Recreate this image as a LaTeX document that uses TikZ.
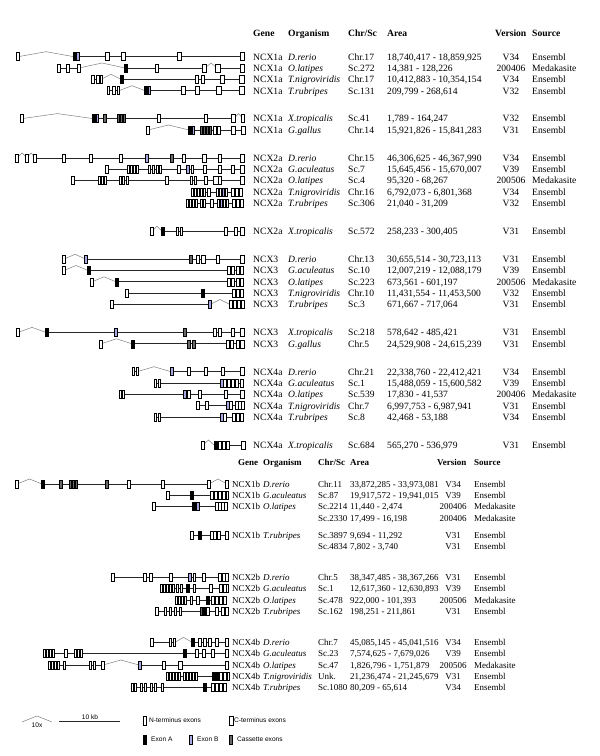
\documentclass[tikz,border=0pt]{standalone}
\usepackage{fontspec}
\setmainfont{Liberation Serif}
\newfontfamily\legfont{Liberation Sans}
\definecolor{exonB}{RGB}{168,168,226}
\definecolor{cassGray}{RGB}{105,105,105}
\newcommand{\tabfont}{\fontsize{9.6}{11}\selectfont}

% one gene model: y, introns (l = straight, k = 10x hat), exons (style/x/width)
\newcommand{\model}[3]{%
  \foreach \ty/\xa/\xb in {#2}{%
    \if\ty k\draw[hat] (\xa,#1) -- ({(\xa+\xb)/2},{#1-5}) -- (\xb,#1);%
    \else\draw[intron] (\xa,#1) -- (\xb,#1);\fi}%
  \foreach \st/\xc/\ew in {#3}{%
    \path[\st] ({\xc-\ew/2},{#1-4}) rectangle ++(\ew,8);}%
}
% one line of the table
\newcommand{\tabrow}[8]{%
  \node[txt] (#1-g) at (\cG,{#2+3.3}) {#3};
  \node[txt, font=\tabfont\itshape] (#1-o) at (\cO,{#2+3.3}) {#4};
  \node[txt] (#1-c) at (\cC,{#2+3.3}) {#5};
  \node[txt] (#1-a) at (\cA,{#2+3.3}) {#6};
  \node[txt, anchor=base] (#1-v) at (\cV,{#2+3.3}) {#7};
  \node[txt] (#1-s) at (\cS,{#2+3.3}) {#8};}
\newcommand{\subrow}[6]{%
  \node[txt] (#1-c) at (\cC,{#2+3.3}) {#3};
  \node[txt] (#1-a) at (\cA,{#2+3.3}) {#4};
  \node[txt, anchor=base] (#1-v) at (\cV,{#2+3.3}) {#5};
  \node[txt] (#1-s) at (\cS,{#2+3.3}) {#6};}
\newcommand{\headrow}[2]{%
  \node[head] (#1-g) at (\hG,{#2+3.3}) {Gene};
  \node[head] (#1-o) at (\cO,{#2+3.3}) {Organism};
  \node[head] (#1-c) at (\cC,{#2+3.3}) {Chr/Sc};
  \node[head] (#1-a) at (\cA,{#2+3.3}) {Area};
  \node[head] (#1-v) at ({\cV-16},{#2+3.3}) {Version};
  \node[head] (#1-s) at (\cS,{#2+3.3}) {Source};}

\begin{document}
\begin{tikzpicture}[x=1pt, y=-1pt,
    intron/.style={draw=black!85, line width=0.7pt},
    hat/.style={draw=gray, line width=0.5pt},
    nx/.style={draw, fill=white, line width=0.5pt},
    ax/.style={draw, fill=black, line width=0.5pt},
    bx/.style={draw, fill=exonB, line width=0.5pt},
    cx/.style={draw, fill=cassGray, line width=0.5pt},
    tx/.style={draw, fill=white, line width=0.5pt, path picture={
        \fill (path picture bounding box.north west) -- ([xshift=2pt]path picture bounding box.north west)
          -- (path picture bounding box.south east) -- ([xshift=-2pt]path picture bounding box.south east) -- cycle;}},
    txt/.style={anchor=base west, inner sep=0pt, font=\tabfont},
    head/.style={txt, font=\tabfont\bfseries},
    leg/.style={inner sep=0pt, font=\legfont\fontsize{6.6}{8}\selectfont}]

\useasboundingbox (0,0) rectangle (600,756);

% upper table
\def\cG{253}\def\hG{253}\def\cO{288}\def\cC{348}\def\cA{387}\def\cV{511}\def\cS{532}
\headrow{h1}{33}

\model{56.7}{k/18/74, l/76/244}{nx/18/3, ax/75/3, bx/78/3, tx/107/4, tx/123/4, tx/179/4, tx/242/4}
\model{68}{l/59/79, k/79/125, l/126/204, k/205/217, l/218/243}{nx/59/3, nx/68/3, nx/79/3, ax/126/3, tx/157/3, tx/204/4, tx/218/5, tx/242/4}
\model{79.3}{l/92/101, k/101/121, l/122/243}{nx/93/3, nx/98/3, nx/101/2, ax/122/3, tx/197/3, tx/203/3, tx/222/4, tx/242/5}
\model{90.7}{l/107/119, k/119/145, l/146/243}{nx/108/2, nx/114/3, nx/118/2, ax/146/3, bx/149/2, tx/183/4, tx/197/4, tx/219/5, tx/242/5}
\model{118.6}{k/22/93, l/95/233, k/234/243}{nx/22/3, ax/94/3, bx/97/2, cx/105/3, cx/118/2, cx/121/2, cx/124/2, tx/159/3, tx/206/3, tx/233/4, tx/243/3}
\model{130}{k/148/189, l/190/243}{nx/148/3, ax/190/3, bx/193/2, cx/201/2, cx/204/2, cx/207/2, cx/210/2, tx/215/3, tx/219/3, tx/233/4, tx/243/4}

\tabrow{n1a-dr}{56.7}{NCX1a}{D.rerio}{Chr.17}{18,740,417 - 18,859,925}{V34}{Ensembl}
\tabrow{n1a-ol}{68}{NCX1a}{O.latipes}{Sc.272}{14,381 - 128,226}{200406}{Medakasite}
\tabrow{n1a-tn}{79.3}{NCX1a}{T.nigroviridis}{Chr.17}{10,412,883 - 10,354,154}{V34}{Ensembl}
\tabrow{n1a-tr}{90.7}{NCX1a}{T.rubripes}{Sc.131}{209,799 - 268,614}{V32}{Ensembl}
\tabrow{n1a-xt}{118.6}{NCX1a}{X.tropicalis}{Sc.41}{1,789 - 164,247}{V32}{Ensembl}
\tabrow{n1a-gg}{130}{NCX1a}{G.gallus}{Chr.14}{15,921,826 - 15,841,283}{V31}{Ensembl}

\model{157.9}{k/17/27, k/27/35, l/35/243}{nx/17/3, nx/27/3, nx/35/3, nx/64/3, nx/91/3, nx/121/3, bx/147/3, cx/172/3, tx/184/3, tx/204/4, tx/220/3, tx/242/4}
\model{169.3}{l/107/243}{nx/107/3, nx/128/2, nx/131/2, nx/134/2, nx/137/2, nx/149/2, nx/153/2, nx/157/2, nx/160/2, nx/179/3, bx/188/3, nx/192/2, tx/205/3, tx/220/3, tx/233/3, tx/242/4}
\model{180.6}{l/73/243}{nx/73/3, nx/99/2, nx/102/2, nx/105/2, nx/120/2, nx/123/2, nx/127/2, nx/167/3, nx/191/2, nx/195/2, tx/206/3, tx/216/5, tx/220/3, tx/242/4}
\model{191.9}{l/191/243}{nx/192/2, nx/195/2, nx/198/2, nx/201/2, nx/204/2, nx/209/3, nx/217/2, nx/220/2, bx/223/2, tx/226/2, tx/233/3, tx/237/3, tx/241/3}
\model{203.2}{l/186/243}{nx/187/2, nx/190/2, nx/193/2, nx/196/2, nx/201/2, nx/204/2, nx/212/3, nx/218/2, bx/221/2, tx/224/2, tx/227/2, tx/234/3, tx/238/3, tx/242/3}
\model{231.2}{k/152/162, l/163/243}{nx/152/3, ax/163/3, nx/177/2, nx/181/2, tx/226/3, tx/236/3, tx/242/4}

\tabrow{n2a-dr}{157.9}{NCX2a}{D.rerio}{Chr.15}{46,306,625 - 46,367,990}{V34}{Ensembl}
\tabrow{n2a-ga}{169.3}{NCX2a}{G.aculeatus}{Sc.7}{15,645,456 - 15,670,007}{V39}{Ensembl}
\tabrow{n2a-ol}{180.6}{NCX2a}{O.latipes}{Sc.4}{95,320 - 68,267}{200506}{Medakasite}
\tabrow{n2a-tn}{191.9}{NCX2a}{T.nigroviridis}{Chr.16}{6,792,073 - 6,801,368}{V34}{Ensembl}
\tabrow{n2a-tr}{203.2}{NCX2a}{T.rubripes}{Sc.306}{21,040 - 31,209}{V32}{Ensembl}
\tabrow{n2a-xt}{231.2}{NCX2a}{X.tropicalis}{Sc.572}{258,233 - 300,405}{V31}{Ensembl}

\model{259.2}{k/64/86, l/86/243}{nx/64/3, bx/86/3, cx/191/3, tx/198/3, tx/203/4, tx/218/3, tx/242/4}
\model{270.5}{k/64/88, l/89/243}{nx/64/3, ax/89/3, tx/229/3, tx/233/3, tx/238/3, tx/242/3}
\model{281.8}{k/92/116, l/117/243}{nx/92/3, ax/117/3, tx/229/3, tx/233/3, tx/238/3, tx/242/3}
\model{293.1}{l/127/243}{nx/127/3, ax/203/3, tx/234/3, tx/238/3, tx/242/3}
\model{304.5}{l/112/210, k/210/230, l/230/243}{nx/112/3, bx/210/3, tx/231/3, tx/235/3, tx/239/3, tx/243/3}
\model{332.4}{k/18/46, l/47/243}{nx/18/3, ax/47/3, bx/116/3, cx/185/3, tx/215/3, tx/220/3, tx/233/3, tx/242/4}
\model{343.8}{k/101/132, l/133/243}{nx/101/3, ax/133/3, cx/189/3, cx/194/3, tx/228/3, tx/232/3, tx/238/3, tx/242/4}

\tabrow{n3-dr}{259.2}{NCX3}{D.rerio}{Chr.13}{30,655,514 - 30,723,113}{V31}{Ensembl}
\tabrow{n3-ga}{270.5}{NCX3}{G.aculeatus}{Sc.10}{12,007,219 - 12,088,179}{V39}{Ensembl}
\tabrow{n3-ol}{281.8}{NCX3}{O.latipes}{Sc.223}{673,561 - 601,197}{200506}{Medakasite}
\tabrow{n3-tn}{293.1}{NCX3}{T.nigroviridis}{Chr.10}{11,431,554 - 11,453,500}{V32}{Ensembl}
\tabrow{n3-tr}{304.5}{NCX3}{T.rubripes}{Sc.3}{671,667 - 717,064}{V31}{Ensembl}
\tabrow{n3-xt}{332.4}{NCX3}{X.tropicalis}{Sc.218}{578,642 - 485,421}{V31}{Ensembl}
\tabrow{n3-gg}{343.8}{NCX3}{G.gallus}{Chr.5}{24,529,908 - 24,615,239}{V31}{Ensembl}

\model{371.7}{l/132/137, k/137/171, l/172/243}{nx/133/2, nx/137/2, bx/172/3, tx/189/3, tx/206/3, tx/223/3, tx/242/4}
\model{383}{l/155/243}{nx/155/2, nx/159/2, bx/222/3, tx/225/3, tx/229/3, tx/233/3, tx/237/3, tx/242/3}
\model{394.4}{l/119/243}{nx/120/2, nx/123/2, bx/185/3, tx/189/3, tx/200/3, tx/226/3, tx/242/4}
\model{405.7}{l/198/243}{nx/198/3, nx/207/3, bx/228/3, tx/231/3, tx/237/3, tx/240/3, tx/243/3}
\model{417}{l/155/243}{nx/155/2, nx/159/2, bx/222/3, tx/225/3, tx/234/3, tx/238/3, tx/242/3}
\model{445}{k/203/214, l/215/243}{nx/203/3, ax/216/3, tx/220/3, tx/224/3, tx/228/3, tx/243/4}

\tabrow{n4a-dr}{371.7}{NCX4a}{D.rerio}{Chr.21}{22,338,760 - 22,412,421}{V34}{Ensembl}
\tabrow{n4a-ga}{383}{NCX4a}{G.aculeatus}{Sc.1}{15,488,059 - 15,600,582}{V39}{Ensembl}
\tabrow{n4a-ol}{394.4}{NCX4a}{O.latipes}{Sc.539}{17,830 - 41,537}{200406}{Medakasite}
\tabrow{n4a-tn}{405.7}{NCX4a}{T.nigroviridis}{Chr.7}{6,997,753 - 6,987,941}{V31}{Ensembl}
\tabrow{n4a-tr}{417}{NCX4a}{T.rubripes}{Sc.8}{42,468 - 53,188}{V34}{Ensembl}
\tabrow{n4a-xt}{445}{NCX4a}{X.tropicalis}{Sc.684}{565,270 - 536,979}{V31}{Ensembl}

% lower table, set a little smaller
\renewcommand{\tabfont}{\fontsize{9}{11}\selectfont}
\def\cG{232}\def\hG{238}\def\cO{263}\def\cC{318}\def\cA{350}\def\cV{453}\def\cS{474}
\headrow{h2}{462}

\model{484}{k/17/42, l/43/209, k/209/227}{nx/17/3, ax/43/3, cx/61/3, cx/70/2, cx/73/2, cx/76/2, cx/107/3, tx/129/3, tx/163/3, tx/209/3, tx/227/3}
\model{495.3}{l/168/227}{nx/168/3, ax/192/3, tx/212/3, tx/216/3, tx/220/3, tx/224/3, tx/227/2}
\model{506.6}{l/154/227}{nx/154/3, ax/194/4, bx/198/3, tx/217/3, tx/220/3, tx/223/3, tx/226/3}
\model{535}{l/192/227}{nx/192/3, ax/200/3, tx/212/3, tx/215/3, tx/219/3, tx/227/3}

\tabrow{n1b-dr}{484}{NCX1b}{D.rerio}{Chr.11}{33,872,285 - 33,973,081}{V34}{Ensembl}
\tabrow{n1b-ga}{495.3}{NCX1b}{G.aculeatus}{Sc.87}{19,917,572 - 19,941,015}{V39}{Ensembl}
\tabrow{n1b-ol}{506.6}{NCX1b}{O.latipes}{Sc.2214}{11,440 - 2,474}{200406}{Medakasite}
\subrow{n1b-ol2}{518}{Sc.2330}{17,499 - 16,198}{200406}{Medakasite}
\tabrow{n1b-tr}{535}{NCX1b}{T.rubripes}{Sc.3897}{9,694 - 11,292}{V31}{Ensembl}
\subrow{n1b-tr2}{546.3}{Sc.4834}{7,802 - 3,740}{V31}{Ensembl}

\model{577.3}{l/113/227}{nx/113/3, nx/145/3, nx/151/3, nx/171/3, bx/190/3, nx/194/2, tx/204/3, tx/220/3, tx/224/3, tx/227/3}
\model{588.6}{l/161/227}{nx/161/2, nx/164/2, nx/167/2, nx/170/2, nx/173/2, nx/177/2, nx/181/2, ax/188/3, nx/194/2, tx/211/3, tx/221/3, tx/225/3, tx/227/2}
\model{600}{l/175/227}{nx/176/2, nx/179/2, nx/182/2, nx/185/2, nx/191/2, nx/198/3, ax/208/3, tx/213/3, tx/217/3, tx/221/3, tx/225/3}
\model{611.3}{l/157/227}{nx/157/3, nx/165/2, nx/170/2, nx/175/2, nx/180/2, cx/201/2, ax/204/2, tx/208/3, tx/217/3, tx/223/3, tx/227/3}

\tabrow{n2b-dr}{577.3}{NCX2b}{D.rerio}{Chr.5}{38,347,485 - 38,367,266}{V31}{Ensembl}
\tabrow{n2b-ga}{588.6}{NCX2b}{G.aculeatus}{Sc.1}{12,617,360 - 12,630,893}{V39}{Ensembl}
\tabrow{n2b-ol}{600}{NCX2b}{O.latipes}{Sc.478}{922,000 - 101,393}{200506}{Medakasite}
\tabrow{n2b-tr}{611.3}{NCX2b}{T.rubripes}{Sc.162}{198,251 - 211,861}{V31}{Ensembl}

\model{642.3}{l/152/175, k/175/192, l/192/227}{nx/152/3, nx/170/2, nx/174/2, ax/193/3, tx/200/3, tx/205/3, tx/210/3, tx/217/3, tx/227/3}
\model{653.6}{l/43/227}{nx/44/2, nx/47/2, nx/50/2, nx/53/2, nx/66/3, nx/75/2, nx/78/2, nx/81/2, ax/185/3, tx/197/3, tx/204/3, tx/213/3, tx/227/3}
\model{665}{l/48/103, k/103/139, l/140/227}{nx/49/2, nx/52/2, nx/55/2, nx/58/2, nx/64/2, nx/90/2, nx/94/2, nx/103/3, bx/140/3, tx/164/3, tx/180/4, tx/227/3}
\model{676.3}{l/166/213}{nx/167/2, nx/170/2, nx/173/2, nx/176/2, nx/179/2, nx/184/2, nx/187/2, nx/190/2, nx/193/2, nx/196/2, ax/214/3, ax/217/3, tx/221/3, tx/225/3, tx/228/2}
\model{687.6}{l/131/227}{nx/132/2, nx/135/2, nx/141/2, nx/145/2, nx/151/2, nx/155/2, nx/162/2, ax/205/3, tx/213/3, tx/217/3, tx/221/3, tx/225/3}

\tabrow{n4b-dr}{642.3}{NCX4b}{D.rerio}{Chr.7}{45,085,145 - 45,041,516}{V34}{Ensembl}
\tabrow{n4b-ga}{653.6}{NCX4b}{G.aculeatus}{Sc.23}{7,574,625 - 7,679,026}{V39}{Ensembl}
\tabrow{n4b-ol}{665}{NCX4b}{O.latipes}{Sc.47}{1,826,796 - 1,751,879}{200506}{Medakasite}
\tabrow{n4b-tn}{676.3}{NCX4b}{T.nigroviridis}{Unk.}{21,236,474 - 21,245,679}{V31}{Ensembl}
\tabrow{n4b-tr}{687.6}{NCX4b}{T.rubripes}{Sc.1080}{80,209 - 65,614}{V34}{Ensembl}

% legend
\draw[hat] (22,722) -- (37,716) -- (52,722);
\node[leg, anchor=north] (tenx) at (37,723) {10x};
\draw[intron] (59,721) -- (120,721);
\node[leg, anchor=south] (tenkb) at (90,719.5) {10 kb};
\path[nx] (143,716) rectangle ++(3,9);
\node[leg, anchor=west] (nterm) at (149,720.5) {N-terminus exons};
\path[tx] (229,716) rectangle ++(4,9);
\node[leg, anchor=west] (cterm) at (234,720.5) {C-terminus exons};
\path[ax] (143,735) rectangle ++(3,9);
\node[leg, anchor=west] (exa) at (151,739.5) {Exon A};
\path[bx] (189,735) rectangle ++(3,9);
\node[leg, anchor=west] (exb) at (197,739.5) {Exon B};
\path[cx] (229,735) rectangle ++(3,9);
\node[leg, anchor=west] (cass) at (237,739.5) {Cassette exons};
\end{tikzpicture}
\end{document}
